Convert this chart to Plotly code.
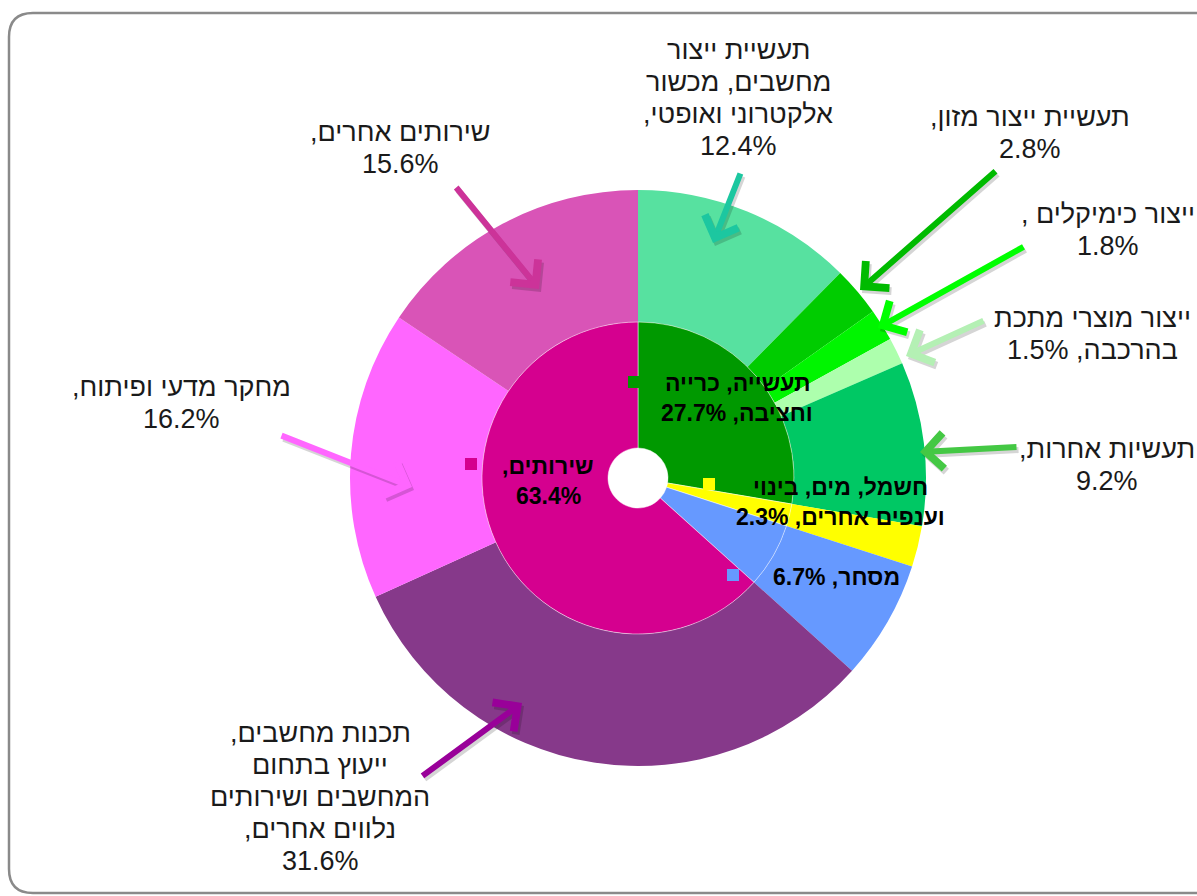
import plotly.graph_objects as go

# ---------------- data ----------------
inner_labels = ["תעשייה, כרייה וחציבה", "חשמל, מים, בינוי וענפים אחרים", "מסחר", "שירותים"]
inner_values = [27.7, 2.3, 6.7, 63.4]
inner_colors = ["#009900", "#FFFF00", "#6699FF", "#D5008F"]

outer_labels = [
    "תעשיית ייצור מחשבים, מכשור אלקטרוני ואופטי",
    "תעשיית ייצור מזון",
    "ייצור כימיקלים",
    "ייצור מוצרי מתכת בהרכבה",
    "תעשיות אחרות",
    "חשמל, מים, בינוי וענפים אחרים ",
    "מסחר ",
    "תכנות מחשבים, ייעוץ בתחום המחשבים ושירותים נלווים אחרים",
    "מחקר מדעי ופיתוח",
    "שירותים אחרים",
]
outer_values = [12.4, 2.8, 1.8, 1.5, 9.2, 2.3, 6.7, 31.6, 16.2, 15.6]
outer_colors = ["#57E1A0", "#00CC00", "#00F500", "#ADFFAD", "#00C864",
                "#FFFF00", "#6699FF", "#86398A", "#FF66FF", "#D954B7"]

# label text lines (as displayed); "{v}" marks where the percentage goes
outer_label_lines = [
    ["תעשיית ייצור", "מחשבים, מכשור", "אלקטרוני ואופטי,", "{v}"],
    ["תעשיית ייצור מזון,", "{v}"],
    ["ייצור כימיקלים ,", "{v}"],
    ["ייצור מוצרי מתכת", "בהרכבה, {v}"],
    ["תעשיות אחרות,", "{v}"],
    None,
    None,
    ["תכנות מחשבים,", "ייעוץ בתחום", "המחשבים ושירותים", "נלווים אחרים,", "{v}"],
    ["מחקר מדעי ופיתוח,", "{v}"],
    ["שירותים אחרים,", "{v}"],
]
inner_label_lines = [
    ["תעשייה, כרייה", "וחציבה, {v}"],
    ["חשמל, מים, בינוי", "וענפים אחרים, {v}"],
    ["מסחר, {v}"],
    ["שירותים,", "{v}"],
]

# ---------------- layout helpers (pixel -> paper) ----------------
W, H = 1197, 896
def px(x):
    return x / W
def py(y):
    return 1 - y / H

CX, CY = 638, 478
R_OUT, R_MID, R_HOLE = 288, 156, 30

RLM = "\u200f"
def rtl(s):
    return RLM + s + RLM

FONT = "Liberation Sans, Arial, DejaVu Sans, sans-serif"

fig = go.Figure()
fig.add_trace(go.Pie(
    values=outer_values, labels=outer_labels, sort=False, direction="clockwise",
    rotation=0, hole=R_MID / R_OUT, textinfo="none", showlegend=False,
    marker=dict(colors=outer_colors, line=dict(width=0)),
    domain=dict(x=[px(CX - R_OUT), px(CX + R_OUT)], y=[py(CY + R_OUT), py(CY - R_OUT)]),
    hovertemplate="%{label}: %{value}%<extra></extra>",
))
fig.add_trace(go.Pie(
    values=inner_values, labels=inner_labels, sort=False, direction="clockwise",
    rotation=0, hole=R_HOLE / R_MID, textinfo="none", showlegend=False,
    marker=dict(colors=inner_colors, line=dict(width=0.8, color="rgba(255,255,255,0.6)")),
    domain=dict(x=[px(CX - R_MID), px(CX + R_MID)], y=[py(CY + R_MID), py(CY - R_MID)]),
    hovertemplate="%{label}: %{value}%<extra></extra>",
))

annotations = []
shapes = []

def add_lines(lines, val, cx, cy, size, spacing, bold=False):
    n = len(lines)
    for i, s in enumerate(lines):
        t = rtl(s.replace("{v}", f"{val}%"))
        if bold:
            t = "<b>" + t + "</b>"
        yy = cy + (i - (n - 1) / 2) * spacing
        annotations.append(dict(
            x=px(cx), y=py(yy), xref="paper", yref="paper", text=t,
            showarrow=False, xanchor="center", yanchor="middle", align="center",
            font=dict(family=FONT, size=size, color="#1A1A1A" if not bold else "#000000"),
        ))

# outer labels: block centre (pixels)
outer_label_pos = [(738, 98), (1030, 133), (1108, 230), (1092, 334), (1107, 465),
                   None, None, (320, 797), (181, 403), (400, 148)]
# arrows: (tail x, tail y, head x, head y, colour)
outer_arrows = [
    (741, 172, 713, 243, "#1CC7A0"),
    (997, 170, 860, 290, "#00BB00"),
    (1025, 246, 878, 328, "#00FF00"),
    (985, 320, 906, 356, "#B4F0B4"),
    (1018, 447, 920, 452, "#44C844"),
    None, None,
    (421, 777, 522, 703, "#990099"),
    (280, 435, 412, 487, "#FF66FF"),
    (455, 186, 539, 289, "#CC3399"),
]

for lines, val, pos, arr in zip(outer_label_lines, outer_values, outer_label_pos, outer_arrows):
    if lines is None:
        continue
    add_lines(lines, val, pos[0], pos[1], 27, 32)
    tx, ty, hx, hy, col = arr
    # soft shadow
    annotations.append(dict(
        x=px(hx + 2), y=py(hy + 3), xref="paper", yref="paper", text="",
        showarrow=True, ax=tx - hx, ay=ty - hy, axref="pixel", ayref="pixel",
        arrowhead=4, arrowsize=1.15, arrowwidth=6, arrowcolor="rgba(0,0,0,0.16)", standoff=0,
    ))
    annotations.append(dict(
        x=px(hx), y=py(hy), xref="paper", yref="paper", text="",
        showarrow=True, ax=tx - hx, ay=ty - hy, axref="pixel", ayref="pixel",
        arrowhead=4, arrowsize=1.15, arrowwidth=6, arrowcolor=col, standoff=0,
    ))

# inner labels
inner_label_pos = [(737, 398), (840, 502), (836, 577), (548, 481)]
inner_key_pos = [(634, 382), (709, 484), (733, 575), (471, 464)]
for lines, val, col, pos, key in zip(inner_label_lines, inner_values, inner_colors,
                                     inner_label_pos, inner_key_pos):
    add_lines(lines, val, pos[0], pos[1], 23, 30, bold=True)
    k = 6
    shapes.append(dict(
        type="rect", xref="paper", yref="paper", layer="above",
        x0=px(key[0] - k), x1=px(key[0] + k), y0=py(key[1] + k), y1=py(key[1] - k),
        fillcolor=col, line=dict(width=0),
    ))

# rounded chart-area border
L, T, RR, B, rad = 9, 13, 1230, 893, 24
path = (f"M {px(L)},{py(B - rad)} L {px(L)},{py(T + rad)} "
        f"Q {px(L)},{py(T)} {px(L + rad)},{py(T)} L {px(RR)},{py(T)} "
        f"M {px(L)},{py(B - rad)} Q {px(L)},{py(B)} {px(L + rad)},{py(B)} L {px(RR)},{py(B)}")
shapes.append(dict(type="path", xref="paper", yref="paper", path=path, layer="below",
                   line=dict(color="#8A8A8A", width=2.5)))

fig.update_layout(
    width=W, height=H, margin=dict(l=0, r=0, t=0, b=0),
    paper_bgcolor="white", plot_bgcolor="white",
    annotations=annotations, shapes=shapes, showlegend=False,
)

fig.write_html("out.html", config={"displayModeBar": False},
               post_script="document.body.style.margin='0';document.body.style.padding='0';"
                           "document.documentElement.style.overflow='hidden';")
